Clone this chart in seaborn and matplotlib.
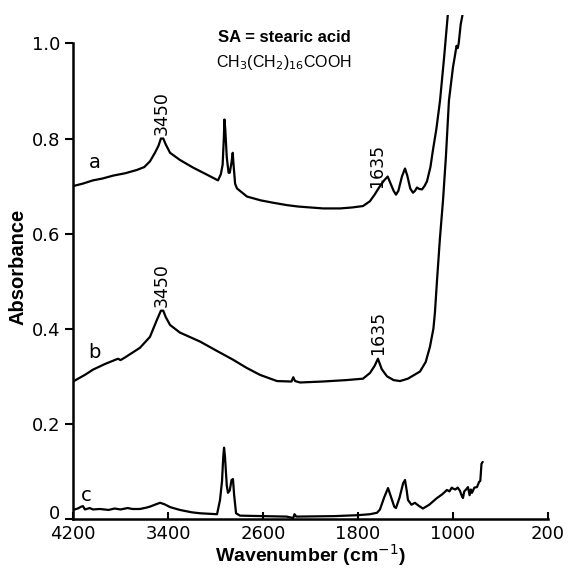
import pandas as pd
import seaborn as sns
import matplotlib.pyplot as plt
from matplotlib import transforms

# ---------- Spectra ----------
wn_a = [4200, 4120, 4032, 3950, 3863, 3760, 3661, 3600, 3552, 3510, 3480, 3460, 3440,
        3420, 3383, 3300, 3190, 3080, 2979, 2955, 2940, 2930, 2925, 2918, 2905, 2890,
        2880, 2865, 2855, 2848, 2835, 2819, 2735, 2620, 2516, 2400, 2305, 2200, 2095,
        1950, 1850, 1758, 1700, 1660, 1640, 1620, 1580, 1550, 1525, 1500, 1480, 1460,
        1430, 1404, 1385, 1360, 1337, 1320, 1303, 1285, 1261, 1240, 1219, 1190, 1168,
        1140, 1109, 1075, 1042]
abs_a = [0.700, 0.705, 0.712, 0.716, 0.722, 0.727, 0.734, 0.740, 0.752, 0.770, 0.785,
         0.800, 0.800, 0.788, 0.770, 0.755, 0.739, 0.725, 0.712, 0.725, 0.745, 0.800,
         0.840, 0.820, 0.760, 0.728, 0.728, 0.750, 0.770, 0.745, 0.705, 0.695, 0.678,
         0.670, 0.665, 0.660, 0.657, 0.655, 0.653, 0.653, 0.655, 0.658, 0.668, 0.682,
         0.690, 0.698, 0.712, 0.720, 0.705, 0.690, 0.682, 0.690, 0.720, 0.737, 0.722,
         0.695, 0.686, 0.690, 0.697, 0.694, 0.693, 0.700, 0.710, 0.740, 0.777, 0.820,
         0.880, 0.970, 1.065]

wn_b = [4200, 4100, 4032, 3930, 3821, 3800, 3760, 3636, 3552, 3493, 3460, 3440, 3420,
        3383, 3300, 3130, 3000, 2853, 2740, 2625, 2482, 2360, 2345, 2330, 2288, 2100,
        1900, 1758, 1699, 1660, 1632, 1600, 1556, 1500, 1446, 1380, 1278, 1230, 1194,
        1165, 1152, 1135, 1110, 1084, 1060, 1034, 1000, 983, 970, 960, 952, 935, 916]
abs_b = [0.289, 0.303, 0.314, 0.326, 0.337, 0.334, 0.340, 0.360, 0.383, 0.419, 0.438,
         0.438, 0.425, 0.408, 0.392, 0.373, 0.355, 0.335, 0.318, 0.303, 0.290, 0.289,
         0.298, 0.290, 0.287, 0.289, 0.292, 0.295, 0.307, 0.322, 0.337, 0.315, 0.300,
         0.292, 0.290, 0.295, 0.310, 0.330, 0.362, 0.400, 0.434, 0.500, 0.590, 0.670,
         0.760, 0.880, 0.950, 0.975, 0.995, 0.990, 1.000, 1.040, 1.065]

wn_c = [4200, 4160, 4130, 4116, 4100, 4060, 4032, 3973, 3900, 3850, 3800, 3740, 3700,
        3636, 3580, 3552, 3500, 3467, 3430, 3383, 3300, 3200, 3130, 2987, 2962, 2945,
        2935, 2928, 2920, 2905, 2895, 2880, 2865, 2853, 2843, 2827, 2794, 2600, 2400,
        2345, 2335, 2320, 2000, 1800, 1700, 1640, 1615, 1580, 1547, 1520, 1495, 1480,
        1450, 1420, 1404, 1390, 1379, 1350, 1320, 1290, 1253, 1200, 1135, 1090, 1051,
        1030, 1010, 1000, 980, 960, 941, 925, 916, 905, 890, 874, 860, 850, 840, 820,
        798, 780, 770, 760, 750]
abs_c = [0.019, 0.022, 0.026, 0.027, 0.020, 0.023, 0.020, 0.021, 0.019, 0.022, 0.020,
         0.023, 0.021, 0.021, 0.024, 0.026, 0.031, 0.034, 0.031, 0.025, 0.019, 0.014,
         0.012, 0.010, 0.040, 0.080, 0.130, 0.150, 0.130, 0.070, 0.055, 0.060, 0.082,
         0.084, 0.050, 0.012, 0.007, 0.006, 0.005, 0.002, 0.010, 0.005, 0.006, 0.008,
         0.010, 0.013, 0.020, 0.045, 0.065, 0.045, 0.026, 0.023, 0.045, 0.075, 0.082,
         0.060, 0.040, 0.030, 0.034, 0.028, 0.022, 0.030, 0.044, 0.052, 0.061, 0.058,
         0.066, 0.064, 0.062, 0.066, 0.059, 0.048, 0.044, 0.058, 0.062, 0.067, 0.050,
         0.062, 0.055, 0.066, 0.067, 0.078, 0.080, 0.116, 0.120]

x_ticks = [4200, 3400, 2600, 1800, 1000, 200]
y_ticks = [0, 0.2, 0.4, 0.6, 0.8, 1.0]
y_tick_labels = ["0", "0.2", "0.4", "0.6", "0.8", "1.0"]

df = pd.concat([
    pd.DataFrame({"wn": wn_a, "A": abs_a, "trace": "a"}),
    pd.DataFrame({"wn": wn_b, "A": abs_b, "trace": "b"}),
    pd.DataFrame({"wn": wn_c, "A": abs_c, "trace": "c"}),
])

sns.set_style("ticks")
plt.rcParams["font.family"] = ["DejaVu Sans"]
plt.rcParams["text.color"] = "black"
plt.rcParams["axes.labelcolor"] = "black"
plt.rcParams["xtick.color"] = "black"
plt.rcParams["ytick.color"] = "black"
plt.rcParams["axes.edgecolor"] = "black"

fig = plt.figure(figsize=(5.75, 5.72), dpi=100)
ax = fig.add_axes([0.127, 0.0927, 0.826, 0.8813])

sns.lineplot(data=df, x="wn", y="A", units="trace", estimator=None, sort=False,
             color="black", linewidth=1.6, ax=ax)

ax.set_xlim(4200, 200)
ax.set_ylim(0, 1.06)
ax.set_xticks(x_ticks)
ax.set_xticklabels([str(t) for t in x_ticks])
ax.set_yticks(y_ticks)
ax.set_yticklabels(y_tick_labels)
ax.tick_params(axis="x", direction="in", length=5, width=1.5, labelsize=13, pad=4)
ax.tick_params(axis="y", direction="out", length=6, width=1.5, labelsize=13, pad=3)

# nudge the "0" label up a little, as in the original figure
zero_lbl = ax.get_yticklabels()[0]
zero_lbl.set_transform(zero_lbl.get_transform() +
                       transforms.ScaledTranslation(0, 5 / 72, fig.dpi_scale_trans))

sns.despine(ax=ax)
ax.spines["left"].set_bounds(0, 1.0)
for s in ("left", "bottom"):
    ax.spines[s].set_linewidth(1.8)

ax.set_xlabel("Wavenumber (cm$^{-1}$)", fontsize=14, fontweight="bold",
              family="Liberation Sans", labelpad=0)
ax.set_ylabel("Absorbance", fontsize=14.5, fontweight="bold",
              family="Liberation Sans", labelpad=3)

# trace letters
ax.text(4020, 0.75, "a", fontsize=14, ha="center", va="center")
ax.text(4020, 0.35, "b", fontsize=14, ha="center", va="center")
ax.text(4090, 0.05, "c", fontsize=14, ha="center", va="center")

# peak labels
ax.text(3450, 0.808, "3450", rotation=90, fontsize=12.5, ha="center", va="bottom")
ax.text(3450, 0.446, "3450", rotation=90, fontsize=12.5, ha="center", va="bottom")
ax.text(1640, 0.696, "1635", rotation=90, fontsize=12.5, ha="center", va="bottom")
ax.text(1632, 0.344, "1635", rotation=90, fontsize=12.5, ha="center", va="bottom")

ax.text(0.445, 0.955, "SA = stearic acid", transform=ax.transAxes, fontsize=12,
        fontweight="bold", family="Liberation Sans", ha="center", va="center")
ax.text(0.445, 0.905, r"CH$_3$(CH$_2$)$_{16}$COOH", transform=ax.transAxes,
        fontsize=11.5, family="Liberation Sans", ha="center", va="center")

fig.savefig("out.png", dpi=100)
